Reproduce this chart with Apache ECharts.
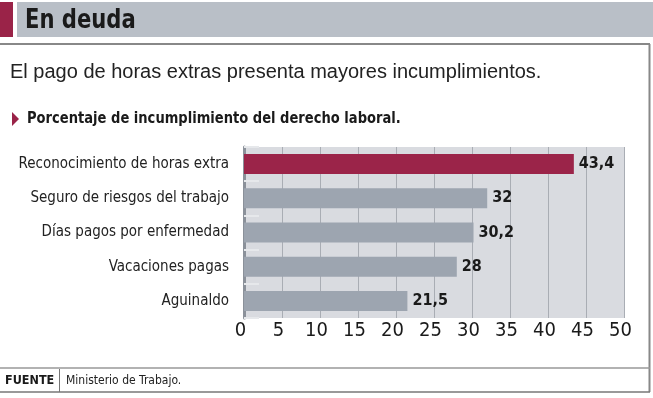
<!DOCTYPE html>
<html><head><meta charset="utf-8">
<script src="https://cdn.jsdelivr.net/npm/echarts@6/dist/echarts.min.js"></script>
<style>html,body{margin:0;padding:0;background:#fff}#c{width:653px;height:398px}</style>
</head><body><div id="c"></div>
<script>
const categories = ['Reconocimiento de horas extra','Seguro de riesgos del trabajo','Días pagos por enfermedad','Vacaciones pagas','Aguinaldo'];
const values = [43.4, 32, 30.2, 28, 21.5];
const xTicks = [0,5,10,15,20,25,30,35,40,45,50];
const NARROW = "'Liberation Sans Narrow','DejaVu Sans Condensed',sans-serif";
const chart = echarts.init(document.getElementById('c'), null, {renderer:'canvas'});
const RED = '#9b2449', GRAY = '#9da5b0';
chart.setOption({
  animation: false,
  grid: {left: 244, right: 29, top: 147, bottom: 80, show: true, backgroundColor: '#d9dbe0', borderWidth: 0},
  xAxis: {type: 'value', min: 0, max: 50, interval: 5,
    axisLine: {show: false}, axisTick: {show: false},
    splitLine: {lineStyle: {color: '#a9adb4', width: 1}},
    axisLabel: {fontSize: 20, color: '#1a1a1a', fontFamily: NARROW, margin: 3, padding: [0, 7, 0, 0],
      formatter: v => xTicks.includes(v) ? String(v) : ''}},
  yAxis: {type: 'category', data: categories, inverse: true,
    axisLine: {show: true, lineStyle: {color: '#8b919a', width: 3}},
    axisTick: {show: true, inside: true, length: 15, lineStyle: {color: '#e6e8eb', width: 2}},
    axisLabel: {fontSize: 15, color: '#222', fontFamily: NARROW, margin: 15}},
  series: [{type: 'bar', barWidth: 20,
    data: values.map((v, i) => ({value: v, itemStyle: {color: i === 0 ? RED : GRAY}})),
    label: {show: true, position: 'right', distance: 5, fontSize: 16, fontWeight: 'bold', color: '#1a1a1a', fontFamily: NARROW,
      formatter: p => String(p.value).replace('.', ',')}}],
  graphic: [
    {type: 'rect', shape: {x: 0, y: 2, width: 13, height: 35}, style: {fill: '#9a2348'}},
    {type: 'rect', shape: {x: 17, y: 2, width: 636, height: 35}, style: {fill: '#b9bfc7'}},
    {type: 'text', x: 25, y: 21, scaleX: 0.87, style: {text: 'En deuda', font: "bold 27px " + NARROW, fill: '#1a1a1a', textVerticalAlign: 'middle'}},
    {type: 'line', shape: {x1: 0, y1: 44, x2: 650, y2: 44}, style: {stroke: '#888', lineWidth: 2}},
    {type: 'line', shape: {x1: 649.5, y1: 44, x2: 649.5, y2: 392}, style: {stroke: '#888', lineWidth: 2}},
    {type: 'text', x: 10, y: 72, style: {text: 'El pago de horas extras presenta mayores incumplimientos.', font: "20px 'Liberation Sans',sans-serif", fill: '#222', textVerticalAlign: 'middle'}},
    {type: 'polygon', shape: {points: [[12, 112], [19, 119], [12, 126]]}, style: {fill: '#9a2348'}},
    {type: 'text', x: 27, y: 119, scaleX: 0.97, style: {text: 'Porcentaje de incumplimiento del derecho laboral.', font: "bold 15px " + NARROW, fill: '#1a1a1a', textVerticalAlign: 'middle'}},
    {type: 'line', shape: {x1: 0, y1: 368, x2: 650, y2: 368}, style: {stroke: '#999', lineWidth: 1.5}},
    {type: 'line', shape: {x1: 0, y1: 392, x2: 650, y2: 392}, style: {stroke: '#777', lineWidth: 1.5}},
    {type: 'line', shape: {x1: 59.5, y1: 369, x2: 59.5, y2: 392}, style: {stroke: '#777', lineWidth: 1}},
    {type: 'text', x: 5, y: 381, style: {text: 'FUENTE', font: "bold 12.5px " + NARROW, fill: '#1a1a1a', textVerticalAlign: 'middle'}},
    {type: 'text', x: 66, y: 381, style: {text: 'Ministerio de Trabajo.', font: "12px " + NARROW, fill: '#222', textVerticalAlign: 'middle'}}
  ]
});
</script></body></html>
